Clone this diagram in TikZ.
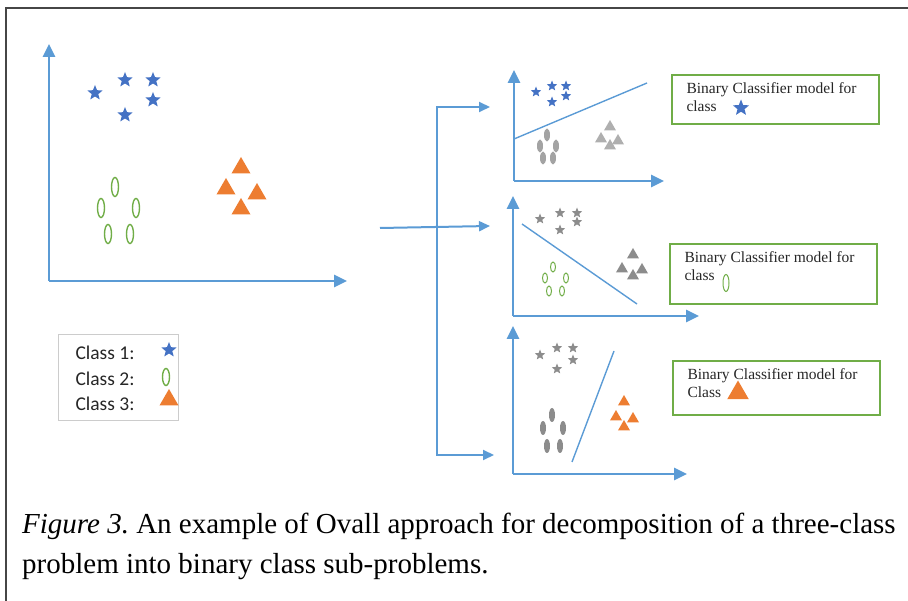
\documentclass[tikz,border=0pt]{standalone}
\usepackage{fontspec}
\setmainfont{Liberation Serif}
\newfontfamily\legendfont{Carlito}
\usetikzlibrary{positioning,shapes.geometric,arrows.meta}
\definecolor{axblue}{RGB}{91,155,213}
\definecolor{starblue}{RGB}{68,114,196}
\definecolor{ovgreen}{RGB}{112,173,71}
\definecolor{triorange}{RGB}{237,125,49}
\definecolor{dotgray}{RGB}{140,140,140}
\definecolor{framegray}{RGB}{70,70,70}

\tikzset{
  axis/.style={draw=axblue, line width=2.8pt, -{Triangle[length=13pt,width=12pt]}},
  flow/.style={draw=axblue, line width=2pt, -{Triangle[length=11pt,width=10pt]}},
  split/.style={draw=axblue, line width=1.4pt},
  bigstar/.style={star, star points=5, star point ratio=2.3, fill=starblue, inner sep=0pt, minimum size=16pt},
  smallstar/.style={star, star points=5, star point ratio=2.3, inner sep=0pt, minimum size=11pt},
  bigoval/.style={ellipse, draw=ovgreen, line width=1.4pt, inner sep=0pt, minimum width=7pt, minimum height=19pt},
  smalloval/.style={ellipse, inner sep=0pt, minimum width=6pt, minimum height=13pt},
  bigtri/.style={regular polygon, regular polygon sides=3, fill=triorange, inner sep=0pt, minimum size=22pt},
  smalltri/.style={regular polygon, regular polygon sides=3, inner sep=0pt, minimum size=14pt},
  modelbox/.style={draw=ovgreen, line width=1.6pt, minimum width=207pt, anchor=north west, inner sep=0pt},
  boxtext/.style={font=\fontsize{15.5}{18.5}\selectfont, align=left, anchor=north west, text=black!85},
  legendtext/.style={font=\legendfont\fontsize{19.5}{22}\selectfont, anchor=west, text=black!85}
}

\begin{document}
\frenchspacing
\begin{tikzpicture}[x=1pt,y=-1pt]
\useasboundingbox (0,0) rectangle (908,601);

% frame
\coordinate (ftl) at (6,8);
\coordinate (ftr) at (908,8);
\coordinate (fbl) at (6,601);
\draw[framegray, line width=1.6pt] (fbl) -- (ftl) -- (ftr);

% main plot
\coordinate (o0) at (49,281);
\coordinate (y0) at (49,44);
\coordinate (x0) at (347,281);
\draw[axis] (o0) -- (y0);
\draw[axis] (o0) -- (x0);
\foreach \p [count=\i] in {(95,93),(125,80),(153,80),(153,100),(125,115)}
  \node[bigstar] (ms\i) at \p {};
\foreach \p [count=\i] in {(115,187),(101,208),(136,208),(108,234),(130,234)}
  \node[bigoval] (mo\i) at \p {};
\foreach \p [count=\i] in {(241,168),(226,189),(257,194),(241,209)}
  \node[bigtri] (mt\i) at \p {};

% legend
\node[draw=black!20, line width=0.8pt, minimum width=120pt, minimum height=86pt, anchor=north west] (legend) at (58,334) {};
\node[legendtext] (c1) at (72,353) {Class 1:};
\node[legendtext] (c2) at (72,379) {Class 2:};
\node[legendtext] (c3) at (72,404) {Class 3:};
\node[bigstar] (l1) at (169,350) {};
\node[bigoval, minimum height=17pt] (l2) at (166,377) {};
\node[bigtri] (l3) at (169,400) {};

% splitting arrows
\coordinate (src) at (380,228);
\coordinate (mid) at (490,226);
\coordinate (btop) at (437,107);
\coordinate (bbot) at (437,455);
\coordinate (ttop) at (490,107);
\coordinate (tbot) at (494,455);
\draw[flow] (src) -- (mid);
\draw[flow] (bbot) -- (btop) -- (ttop);
\draw[flow] (btop) -- (bbot) -- (tbot);

% sub-plot 1: class 1 vs rest
\coordinate (o1) at (514,181);
\draw[axis] (o1) -- ++(0,-111) coordinate (y1);
\draw[axis] (o1) -- ++(150,0) coordinate (x1);
\coordinate (d1a) at (514,139);
\coordinate (d1b) at (647,83);
\draw[split] (d1a) -- (d1b);
\foreach \p [count=\i] in {(536,92),(552,86),(566,86),(566,96),(552,102)}
  \node[smallstar, fill=starblue] (as\i) at \p {};
\foreach \p [count=\i] in {(547,135),(540,146),(556,146),(543,158),(553,158)}
  \node[smalloval, fill=dotgray!80] (ao\i) at \p {};
\foreach \p [count=\i] in {(610,127),(601,139),(618,141),(610,146)}
  \node[smalltri, fill=dotgray!70] (at\i) at \p {};
\node[modelbox, minimum height=49pt] (box1) at (671,74) {};
\node[boxtext] (txt1) at (683,79) {Binary Classifier model for\\class};
\node[bigstar, minimum size=17pt] (k1) at (741,108) {};

% sub-plot 2: class 2 vs rest
\coordinate (o2) at (513,316);
\draw[axis] (o2) -- ++(0,-120) coordinate (y2);
\draw[axis] (o2) -- ++(186,0) coordinate (x2);
\coordinate (d2a) at (522,224);
\coordinate (d2b) at (637,304);
\draw[split] (d2a) -- (d2b);
\foreach \p [count=\i] in {(540,219),(560,213),(577,213),(577,222),(560,230)}
  \node[smallstar, fill=dotgray] (bs\i) at \p {};
\foreach \p [count=\i] in {(553,267),(545,278),(566,278),(549,291),(562,291)}
  \node[smalloval, draw=ovgreen, line width=1pt, minimum width=5pt, minimum height=10pt] (bo\i) at \p {};
\foreach \p [count=\i] in {(633,255),(622,269),(642,270),(633,276)}
  \node[smalltri, fill=dotgray] (bt\i) at \p {};
\node[modelbox, minimum height=60pt] (box2) at (669,243) {};
\node[boxtext] (txt2) at (681,248) {Binary Classifier model for\\class};
\node[bigoval, minimum width=6pt, minimum height=17pt, line width=1pt] (k2) at (726,283) {};

% sub-plot 3: class 3 vs rest
\coordinate (o3) at (513,474);
\draw[axis] (o3) -- ++(0,-148) coordinate (y3);
\draw[axis] (o3) -- ++(174,0) coordinate (x3);
\coordinate (d3a) at (572,462);
\coordinate (d3b) at (614,351);
\draw[split] (d3a) -- (d3b);
\foreach \p [count=\i] in {(540,355),(557,348),(573,348),(573,360),(557,369)}
  \node[smallstar, fill=dotgray] (cs\i) at \p {};
\foreach \p [count=\i] in {(552,415),(543,428),(563,428),(547,446),(560,446)}
  \node[smalloval, fill=dotgray, minimum width=6pt, minimum height=14pt] (co\i) at \p {};
\foreach \p [count=\i] in {(624,402),(616,417),(633,419),(624,427)}
  \node[smalltri, fill=triorange] (ct\i) at \p {};
\node[modelbox, minimum height=54pt] (box3) at (672,360) {};
\node[boxtext] (txt3) at (684,365) {Binary Classifier model for\\Class};
\node[bigtri, minimum size=25pt] (k3) at (738,393) {};

% caption
\node[anchor=north west, align=left, inner sep=0pt, font=\fontsize{29}{40}\selectfont] (caption) at (22,513)
  {\textit{Figure 3.} An example of Ovall approach for decomposition of a three-class\\problem into binary class sub-problems.};
\end{tikzpicture}
\end{document}
